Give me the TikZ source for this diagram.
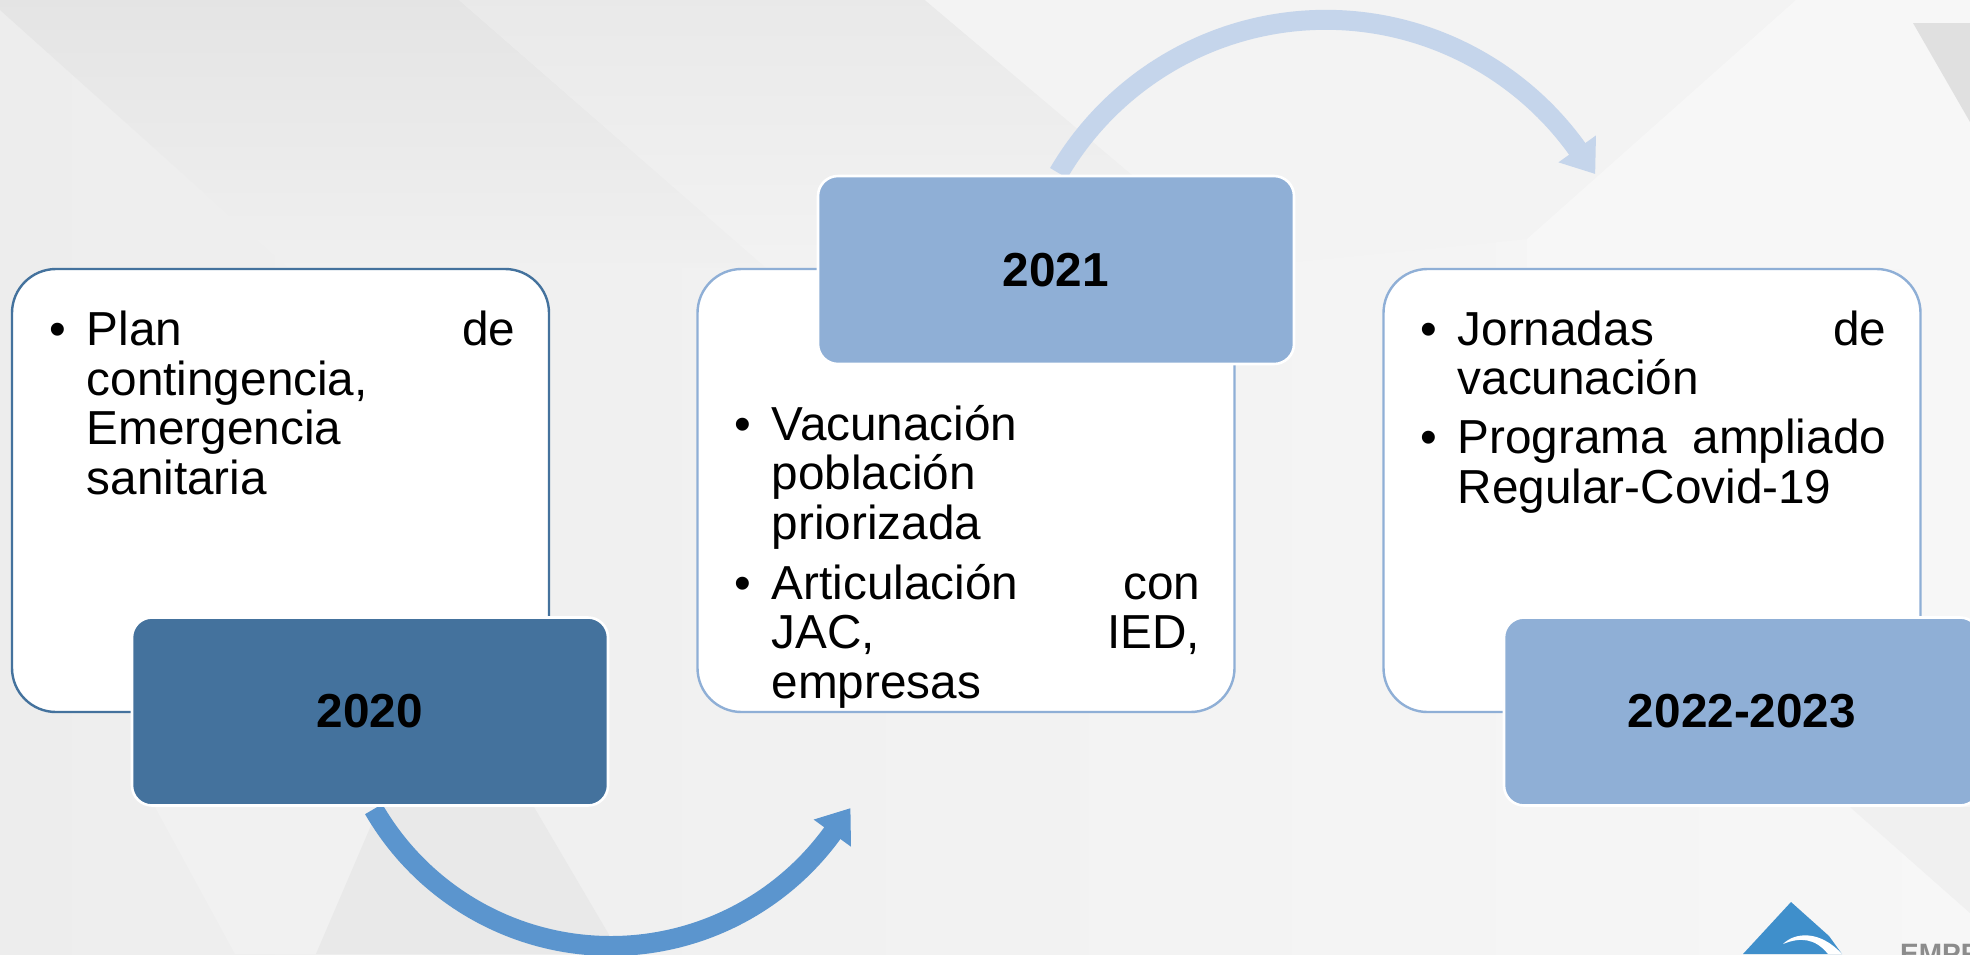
\documentclass[tikz,border=0pt]{standalone}
\usepackage{fontspec}
\setmainfont{Liberation Sans}
\usetikzlibrary{arrows.meta}
\definecolor{navy}{HTML}{44729D}
\definecolor{sky}{HTML}{8FAFD6}
\definecolor{arrowA}{HTML}{5B95CE}
\definecolor{arrowB}{HTML}{C5D5EB}
\definecolor{logoblue}{HTML}{3F8FCB}
\newcommand{\bul}{\leavevmode\llap{•\hskip 21pt}}
\newcommand{\firstline}{\rule{0pt}{36pt}}
\tikzset{
  cardbox/.style={draw=#1,fill=white,line width=2.4pt,rounded corners=44pt,minimum width=537pt,minimum height=443pt,inner sep=0pt},
  badge/.style={draw=white,fill=#1,line width=2.6pt,rounded corners=20pt,minimum width=476pt,minimum height=188pt,inner sep=0pt,font=\fontsize{47.7}{50}\selectfont\bfseries,text=black},
  bodytext/.style={anchor=north west,inner sep=0pt,text width=428.5pt,align=left,font=\fontsize{47.7}{49.6}\selectfont,text=black},
  curved/.style={draw=#1,line width=20pt,-{Triangle[length=31pt,width=44pt,fill=#1]}}
}
\begin{document}
\begin{tikzpicture}[x=1pt,y=1pt]
\useasboundingbox (0,0) rectangle (1970,-954);
% background
\shade[left color=black!7,right color=black!3.2] (0,0) rectangle (1970,-954);
\shade[top color=black!10.5,bottom color=black!6,draw=none] (0,-10) -- (0,0) -- (459,0) -- (765,-267) -- (287,-267) -- cycle;
\shade[top color=black!8.5,bottom color=black!5,draw=none] (459,0) -- (925,0) -- (1241,-267) -- (765,-267) -- cycle;
\fill[black!4.7] (925,0) -- (1796,0) -- (1527,-239) -- (1241,-267) -- cycle;
\fill[black!3.2] (1796,0) -- (1970,0) -- (1970,-269) -- (1527,-269) -- (1527,-239) -- cycle;
\fill[black!12] (1913,-23) -- (1970,-23) -- (1970,-122) -- cycle;
\fill[black!5.5] (155,-807) -- (379,-807) -- (316,-954) -- (235,-954) -- cycle;
\fill[black!8.5] (379,-807) -- (534,-807) -- (608,-933) -- (620,-954) -- (316,-954) -- cycle;
\fill[black!6] (1850,-807) -- (1970,-807) -- (1970,-913) -- cycle;
% logo
\fill[logoblue] (1791,-902) -- (1829,-936) -- (1842,-954) -- (1743,-954) -- cycle;
\fill[white] (1783,-944) .. controls (1795,-932) and (1820,-930) .. (1842,-954) -- (1828,-954) .. controls (1815,-938) and (1800,-937) .. (1783,-944) -- cycle;
\node[anchor=base west,inner sep=0pt,font=\fontsize{28}{30}\selectfont\bfseries,text=black!45] (logotext) at (1900,-963) {EMPR};
% cards
\node[cardbox=navy] (card1) at (280.5,-490.5) {};
\node[cardbox=sky] (card2) at (966,-490.5) {};
\node[cardbox=sky] (card3) at (1652,-490.5) {};
% arc construction points
\coordinate (cA) at (610.8,-672.2);
\path (cA) ++(210:273.8pt) coordinate (startA);
\path (cA) ++(324:273.8pt) coordinate (neckA);
\path (neckA) ++(54:31pt) coordinate (tipA);
\coordinate (cB) at (1325.8,-329.2);
\path (cB) ++(149.7:309.4pt) coordinate (startB);
\path (cB) ++(35.65:309.4pt) coordinate (neckB);
\path (neckB) ++(-54.35:31pt) coordinate (tipB);
% curved arrows
\draw[curved=arrowA] (startA) arc[start angle=210,end angle=324,radius=273.8pt] -- (tipA);
\draw[curved=arrowB] (startB) arc[start angle=149.7,end angle=35.65,radius=309.4pt] -- (tipB);
% badges
\node[badge=navy] (year1) at (370,-711.5) {2020};
\node[badge=sky] (year2) at (1056,-270) {2021};
\node[badge=sky] (year3) at (1742,-711.5) {2022-2023};
% texts
\node[bodytext] (text1) at (86.5,-309.5) {\firstline\bul Plan\hfill de\\contingencia,\\Emergencia\\sanitaria};
\node[bodytext] (text2) at (771.5,-404) {\firstline\bul Vacunación\\población\\priorizada\\[10pt]\bul Articulación\hfill con\\JAC,\hfill IED,\\empresas};
\node[bodytext] (text3) at (1457.5,-309) {\firstline\bul Jornadas\hfill de\\vacunación\\[9pt]\bul Programa\hfill ampliado\\Regular-Covid-19};
\end{tikzpicture}
\end{document}
